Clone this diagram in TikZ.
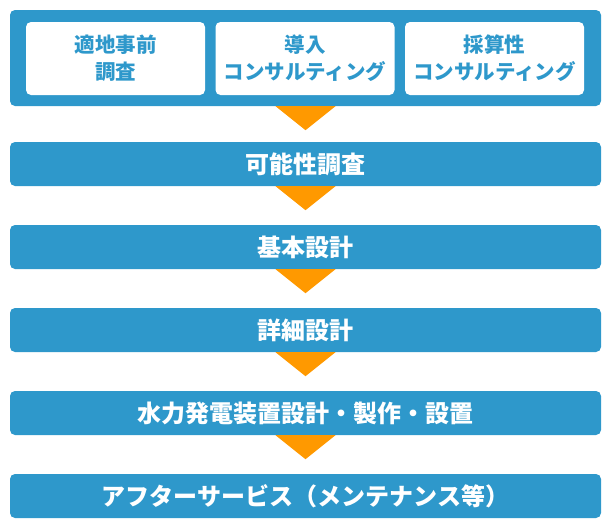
\documentclass[tikz,border=0pt]{standalone}
\usepackage{fontspec}
\setmainfont{Noto Sans CJK JP}
\usepackage{tikz}
\definecolor{flowblue}{RGB}{46,152,203}
\definecolor{floworange}{RGB}{255,153,0}

\begin{document}
\begin{tikzpicture}[x=1pt, y=-1pt, outer/.style={fill=flowblue, rounded corners=5, minimum width=591pt, minimum height=96pt}, sub/.style={fill=white, rounded corners=5, minimum width=179pt, minimum height=73pt, text=flowblue, font=\bfseries\fontsize{20.5}{27}\selectfont, align=center, inner sep=0pt}, stage/.style={fill=flowblue, rounded corners=5, minimum width=591pt, minimum height=44pt, text=white, font=\bfseries\fontsize{24}{28}\selectfont, inner sep=0pt}, tri/.style={fill=floworange}]
                \useasboundingbox (0,0) rectangle (610,530);
                % nodes
                \node[outer]  (top)    at (305.5,58) {};
                \node[sub]    (site)   at (115.5,58.5) {適地事前\\調査};
                \node[sub]    (intro)  at (305,58.5) {導入\\コンサルティング};
                \node[sub]    (profit) at (494.5,58.5) {採算性\\コンサルティング};
                \node[stage]  (feas)   at (305.5,164) {可能性調査};
                \node[stage]  (basic)  at (305.5,247) {基本設計};
                \node[stage]  (detail) at (305.5,330) {詳細設計};
                \node[stage]  (make)   at (305.5,413) {水力発電装置設計・製作・設置};
                \node[stage]  (after)  at (305.5,496) {アフターサービス（メンテナンス等）};
                % edges
                \foreach \a in {top, feas, basic, detail, make}
                    \fill[tri] ([xshift=-30pt]\a.south) -- ([xshift=30pt]\a.south) -- ([yshift=-24pt]\a.south) -- cycle;
            \end{tikzpicture}
\end{document}
